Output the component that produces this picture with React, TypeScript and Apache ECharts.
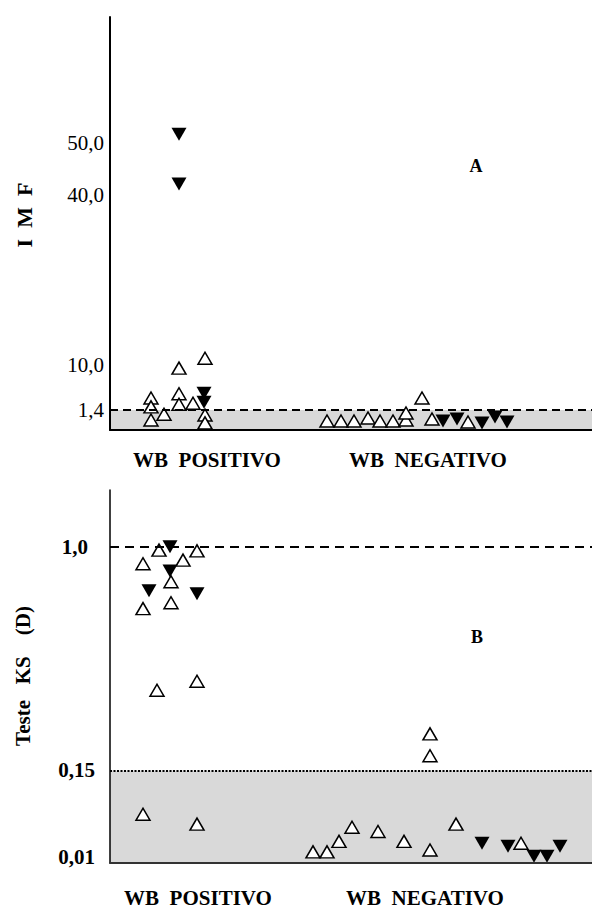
import React, { useEffect, useRef } from "react";
import * as echarts from "echarts";

// ---------- data ----------
const categories = ["WB  POSITIVO", "WB  NEGATIVO"];

// Panel A (IMF): tick values and labels
const imfTicks = [1.4, 10, 40, 50];
const imfTickLabels = ["1,4", "10,0", "40,0", "50,0"];
const imfCutoff = 1.4;

// Panel B (KS test D): tick values and labels
const ksTicks = [0.01, 0.15, 1.0];
const ksTickLabels = ["0,01", "0,15", "1,0"];
const ksCutoff = 0.15;
const ksReference = 1.0;

// points: [jitter position along the x axis, value]
const imfOpen: [number, number][] = [
  [41, 3.7], [41, 2.0], [41, 0.7], [54, 1.1], [69, 4.5], [69, 2.5], [69, 9.4],
  [83, 2.7], [95, 11.2], [95, 1.05], [95, 0.5],
  [217, 0.63], [231, 0.63], [244, 0.63], [258, 0.84], [270, 0.63], [283, 0.63],
  [296, 0.7], [296, 1.19], [312, 3.7], [322, 0.77], [358, 0.56],
];
const imfFilled: [number, number][] = [
  [69, 51.7], [69, 42.1], [94, 4.6], [94, 2.9],
  [333, 0.63], [347, 0.77], [372, 0.49], [385, 0.91], [397, 0.56],
];
const ksOpen: [number, number][] = [
  [33, 0.935], [49, 0.987], [73, 0.949], [87, 0.984], [61, 0.867], [33, 0.765],
  [61, 0.787], [47, 0.455], [87, 0.489], [33, 0.079], [87, 0.063],
  [320, 0.289], [320, 0.206], [203, 0.018], [217, 0.018], [229, 0.035],
  [242, 0.058], [268, 0.051], [294, 0.035], [320, 0.021], [346, 0.063], [411, 0.032],
];
const ksFilled: [number, number][] = [
  [60, 1.0], [60, 0.908], [39, 0.833], [87, 0.821],
  [372, 0.032], [398, 0.027], [424, 0.011], [437, 0.011], [450, 0.027],
];

// ---------- broken (piecewise) scales ----------
const imfScale: [number, number][] = [[0, 0], [1.4, 20], [10, 65], [40, 235], [50, 287], [60, 339]];
const ksScale: [number, number][] = [[0, 0], [0.15, 93], [1.0, 318], [2.0, 582]];

function interp(bp: [number, number][], v: number): number {
  for (let i = 1; i < bp.length; i++) {
    if (v <= bp[i][0] || i === bp.length - 1) {
      const [x0, y0] = bp[i - 1];
      const [x1, y1] = bp[i];
      return y0 + ((v - x0) * (y1 - y0)) / (x1 - x0);
    }
  }
  return 0;
}
const fA = (v: number) => interp(imfScale, v);
const fB = (v: number) => interp(ksScale, v);

const FONT = "'Liberation Serif', 'Times New Roman', serif";

export default function App() {
  const ref = useRef<HTMLDivElement>(null);
  useEffect(() => {
    if (!ref.current) return;
    const chart = echarts.init(ref.current, null, { renderer: "svg" });

    const lookup = (ticks: number[], labels: string[], f: (v: number) => number) =>
      (val: number) => {
        for (let i = 0; i < ticks.length; i++) if (Math.abs(f(ticks[i]) - val) < 0.01) return labels[i];
        return "";
      };
    const imfLabel = lookup(imfTicks, imfTickLabels, fA);
    const ksLabel = lookup(ksTicks, ksTickLabels, fB);

    const catPosA = [97, 318];
    const catPosB = [88, 315];

    const openStyle = { color: "#fff", borderColor: "#000", borderWidth: 1.5, opacity: 1 };
    const filledStyle = { color: "#000", opacity: 1 };

    const option: any = {
      animation: false,
      backgroundColor: "#fff",
      grid: [
        { left: 110, right: 0, top: 17, height: 413 },
        { left: 110, right: 0, top: 490, height: 375 },
      ],
      xAxis: [
        {
          gridIndex: 0, type: "value", min: 0, max: 482, z: 5,
          axisLine: { show: true, onZero: false, lineStyle: { color: "#000", width: 2 } },
          axisTick: { show: false }, splitLine: { show: false },
          axisLabel: {
            customValues: catPosA,
            formatter: (v: number) => categories[catPosA.indexOf(v)] ?? "",
            fontFamily: FONT, fontWeight: "bold", fontSize: 21, color: "#000", margin: 19,
          },
        },
        {
          gridIndex: 1, type: "value", min: 0, max: 482, z: 5,
          axisLine: { show: true, onZero: false, lineStyle: { color: "#333", width: 2 } },
          axisTick: { show: false }, splitLine: { show: false },
          axisLabel: {
            customValues: catPosB,
            formatter: (v: number) => categories[catPosB.indexOf(v)] ?? "",
            fontFamily: FONT, fontWeight: "bold", fontSize: 21, color: "#000", margin: 24,
          },
        },
      ],
      yAxis: [
        {
          gridIndex: 0, type: "value", min: 0, max: 413, z: 5,
          axisLine: { show: true, onZero: false, lineStyle: { color: "#000", width: 2 } },
          axisTick: { show: false }, splitLine: { show: false },
          axisLabel: {
            customValues: imfTicks.map(fA),
            formatter: (v: number) => imfLabel(v),
            fontFamily: FONT, fontSize: 21, color: "#000", margin: 6,
          },
        },
        {
          gridIndex: 1, type: "value", min: 0, max: 375, z: 5,
          axisLine: { show: true, onZero: false, lineStyle: { color: "#000", width: 1.5 } },
          axisTick: { show: false }, splitLine: { show: false },
          axisLabel: {
            customValues: ksTicks.map(fB),
            formatter: (v: number) => {
              const t = ksLabel(v);
              return t === "1,0" ? `{p|${t}}` : `{n|${t}}`;
            },
            rich: {
              n: { fontFamily: FONT, fontWeight: "bold", fontSize: 21, color: "#000" },
              p: { fontFamily: FONT, fontWeight: "bold", fontSize: 21, color: "#000", padding: [0, 7, 0, 0] },
            },
            margin: 15,
          },
        },
      ],
      series: [
        {
          type: "line", xAxisIndex: 0, yAxisIndex: 0, data: [], z: 1, silent: true,
          markArea: {
            silent: true, itemStyle: { color: "#d9d9d9" },
            data: [[{ yAxis: 0 }, { yAxis: fA(imfCutoff) }]],
          },
          markLine: {
            silent: true, symbol: "none", label: { show: false },
            lineStyle: { color: "#000", width: 2, type: [8, 5] },
            data: [{ yAxis: fA(imfCutoff) }],
          },
        },
        {
          type: "line", xAxisIndex: 1, yAxisIndex: 1, data: [], z: 1, silent: true,
          markArea: {
            silent: true, itemStyle: { color: "#d9d9d9" },
            data: [[{ yAxis: 0 }, { yAxis: fB(ksCutoff) }]],
          },
          markLine: {
            silent: true, symbol: "none", label: { show: false },
            data: [
              { yAxis: fB(ksReference), lineStyle: { color: "#000", width: 2, type: [9, 6] } },
              { yAxis: fB(ksCutoff), lineStyle: { color: "#000", width: 2, type: [2, 1.5] } },
            ],
          },
        },
        {
          type: "scatter", xAxisIndex: 0, yAxisIndex: 0, z: 3,
          symbol: "triangle", symbolSize: [14, 12], itemStyle: openStyle,
          data: imfOpen.map(([x, v]) => [x, fA(v)]),
        },
        {
          type: "scatter", xAxisIndex: 0, yAxisIndex: 0, z: 3,
          symbol: "triangle", symbolRotate: 180, symbolSize: [15, 13], itemStyle: filledStyle,
          data: imfFilled.map(([x, v]) => [x, fA(v)]),
        },
        {
          type: "scatter", xAxisIndex: 1, yAxisIndex: 1, z: 3,
          symbol: "triangle", symbolSize: [14, 12], itemStyle: openStyle,
          data: ksOpen.map(([x, v]) => [x, fB(v)]),
        },
        {
          type: "scatter", xAxisIndex: 1, yAxisIndex: 1, z: 3,
          symbol: "triangle", symbolRotate: 180, symbolSize: [15, 13], itemStyle: filledStyle,
          data: ksFilled.map(([x, v]) => [x, fB(v)]),
        },
      ],
      graphic: [
        {
          type: "text", x: 24, y: 215, rotation: Math.PI / 2,
          style: {
            text: "I  M  F", fontFamily: FONT, fontWeight: "bold", fontSize: 22, fill: "#000",
            align: "center", verticalAlign: "middle",
          },
        },
        {
          type: "text", x: 23, y: 676, rotation: Math.PI / 2,
          style: {
            text: "Teste   KS    (D)", fontFamily: FONT, fontWeight: "bold", fontSize: 21, fill: "#000",
            align: "center", verticalAlign: "middle",
          },
        },
        {
          type: "text", x: 476, y: 166,
          style: {
            text: "A", fontFamily: FONT, fontWeight: "bold", fontSize: 18, fill: "#000",
            align: "center", verticalAlign: "middle",
          },
        },
        {
          type: "text", x: 477, y: 637,
          style: {
            text: "B", fontFamily: FONT, fontWeight: "bold", fontSize: 18, fill: "#000",
            align: "center", verticalAlign: "middle",
          },
        },
      ],
    };
    chart.setOption(option);
    return () => chart.dispose();
  }, []);
  return (
    <div
      ref={ref}
      style={{ position: "absolute", left: 0, top: 0, width: 592, height: 908 }}
    />
  );
}
